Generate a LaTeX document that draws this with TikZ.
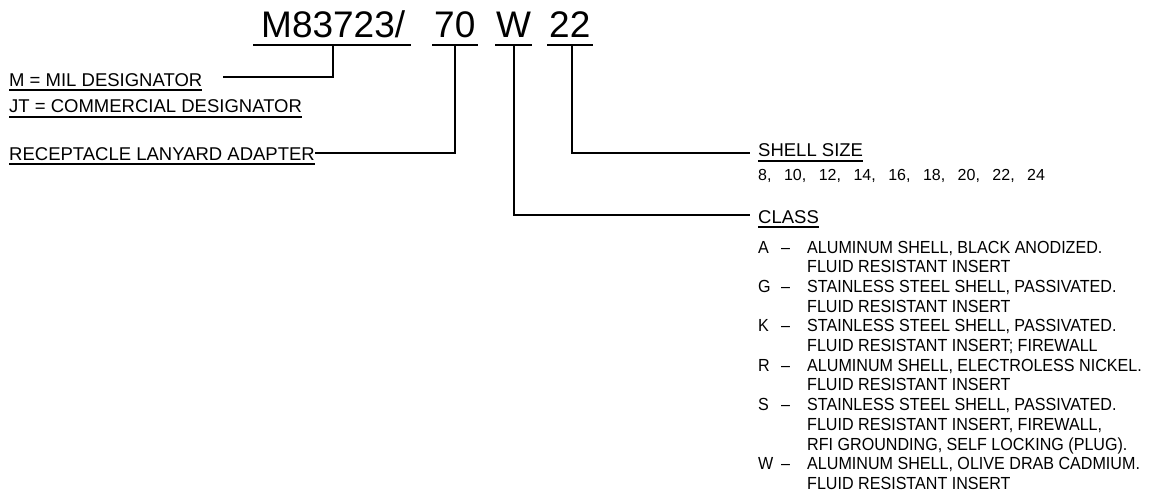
\documentclass[tikz,border=0pt]{standalone}
\usepackage{fontspec}
\setmainfont{Liberation Sans}
\newfontfamily\cadfont[FakeStretch=0.92,Ligatures=TeX]{Liberation Sans}
\newcommand{\numgap}{,\hspace{12.5pt}}
\tikzset{
  titletext/.style={font=\fontsize{37}{42}\selectfont, inner sep=0pt, anchor=base west},
  lbl/.style={font=\fontsize{18.5}{22}\selectfont, inner sep=0pt, anchor=base west},
  numtext/.style={font=\fontsize{16}{19}\selectfont, inner sep=0pt, anchor=base west},
  clsitem/.style={font=\cadfont\fontsize{17.5}{20}\selectfont, inner sep=0pt, anchor=base west},
  conn/.style={line width=1.9pt},
  uline/.style={line width=1.7pt},
}
\begin{document}
\begin{tikzpicture}[x=1pt,y=-1pt]
\fill[white] (0,0) rectangle (1157,495);
\useasboundingbox (0,0) rectangle (1157,495);
% title
\node[titletext] (t1) at (261,38) {M83723/};
\node[titletext] (t2) at (434,38) {70};
\node[titletext] (t3) at (496,38) {W};
\node[titletext] (t4) at (549,38) {22};
\draw[uline] ([xshift=-8pt,yshift=-7pt]t1.base west) -- ([xshift=6pt,yshift=-7pt]t1.base east);
\draw[uline] ([xshift=-2pt,yshift=-7pt]t2.base west) -- ([xshift=2pt,yshift=-7pt]t2.base east);
\draw[uline] ([xshift=-1pt,yshift=-7pt]t3.base west) -- ([xshift=1pt,yshift=-7pt]t3.base east);
\draw[uline] ([xshift=-2pt,yshift=-7pt]t4.base west) -- ([xshift=2pt,yshift=-7pt]t4.base east);
% left labels
\node[lbl] (l1) at (9,86) {M = MIL DESIGNATOR};
\node[lbl] (l2) at (9,113) {JT = COMMERCIAL DESIGNATOR};
\node[lbl] (l3) at (9,160) {RECEPTACLE LANYARD ADAPTER};
\draw[uline] ([yshift=-4pt]l1.base west) -- ([yshift=-4pt]l1.base east);
\draw[uline] ([yshift=-4pt]l2.base west) -- ([yshift=-4pt]l2.base east);
\draw[uline] ([yshift=-4pt]l3.base west) -- ([yshift=-4pt]l3.base east);
% right labels
\node[lbl] (s1) at (758,156) {SHELL SIZE};
\node[numtext] (s2) at (758,180) {8\numgap 10\numgap 12\numgap 14\numgap 16\numgap 18\numgap 20\numgap 22\numgap 24};
\node[lbl] (c1) at (758,223) {CLASS};
\draw[uline] ([yshift=-5pt]s1.base west) -- ([yshift=-5pt]s1.base east);
\draw[uline] ([yshift=-4pt]c1.base west) -- ([yshift=-4pt]c1.base east);
% connectors
\coordinate (e1) at (223,77);
\coordinate (e3) at (750,215);
\coordinate (e4) at (750,153);
\draw[conn] ([yshift=-7pt]t1.base) |- (e1);
\draw[conn] ([yshift=-7pt]t2.base) |- ([yshift=7pt]l3.base east);
\draw[conn] ([yshift=-7pt]t3.base) |- (e3);
\draw[conn] ([xshift=2pt,yshift=-7pt]t4.base) |- (e4);
% class list
\node[clsitem] (kA) at (758,253) {A};
\node[clsitem] (kG) at (758,292.4) {G};
\node[clsitem] (kK) at (758,331.8) {K};
\node[clsitem] (kR) at (758,371.2) {R};
\node[clsitem] (kS) at (758,410.6) {S};
\node[clsitem] (kW) at (758,469.7) {W};
\node[clsitem] (dA) at (781,253) {–};
\node[clsitem] (dG) at (781,292.4) {–};
\node[clsitem] (dK) at (781,331.8) {–};
\node[clsitem] (dR) at (781,371.2) {–};
\node[clsitem] (dS) at (781,410.6) {–};
\node[clsitem] (dW) at (781,469.7) {–};
\node[clsitem] (x0) at (807,253) {ALUMINUM SHELL, BLACK ANODIZED.};
\node[clsitem] (x1) at (807,272.7) {FLUID RESISTANT INSERT};
\node[clsitem] (x2) at (807,292.4) {STAINLESS STEEL SHELL, PASSIVATED.};
\node[clsitem] (x3) at (807,312.1) {FLUID RESISTANT INSERT};
\node[clsitem] (x4) at (807,331.8) {STAINLESS STEEL SHELL, PASSIVATED.};
\node[clsitem] (x5) at (807,351.5) {FLUID RESISTANT INSERT; FIREWALL};
\node[clsitem] (x6) at (807,371.2) {ALUMINUM SHELL, ELECTROLESS NICKEL.};
\node[clsitem] (x7) at (807,390.9) {FLUID RESISTANT INSERT};
\node[clsitem] (x8) at (807,410.6) {STAINLESS STEEL SHELL, PASSIVATED.};
\node[clsitem] (x9) at (807,430.3) {FLUID RESISTANT INSERT, FIREWALL,};
\node[clsitem] (x10) at (807,450) {RFI GROUNDING, SELF LOCKING (PLUG).};
\node[clsitem] (x11) at (807,469.7) {ALUMINUM SHELL, OLIVE DRAB CADMIUM.};
\node[clsitem] (x12) at (807,489.4) {FLUID RESISTANT INSERT};
\end{tikzpicture}
\end{document}
